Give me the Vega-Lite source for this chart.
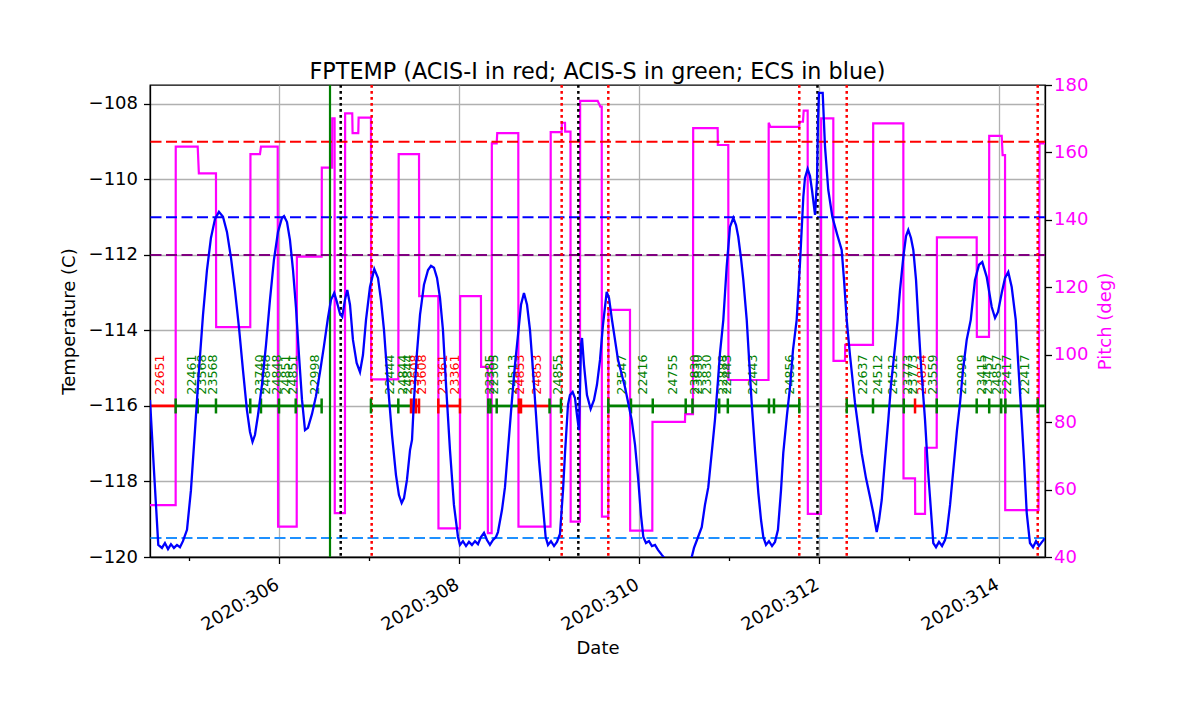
{
  "$schema": "https://vega.github.io/schema/vega-lite/v6.json",
  "width": 895,
  "height": 472,
  "autosize": {"type": "none"},
  "padding": {"left": 150, "top": 85, "right": 155, "bottom": 157},
  "title": {"text": "FPTEMP (ACIS-I in red; ACIS-S in green; ECS in blue)", "font": "DejaVu Sans", "fontSize": 22.3, "fontWeight": "normal", "color": "black", "offset": -7},
  "config": {
    "font": "DejaVu Sans",
    "view": {"stroke": "black", "strokeWidth": 1.3},
    "axis": {
      "labelFont": "DejaVu Sans", "titleFont": "DejaVu Sans",
      "labelFontSize": 18, "titleFontSize": 18, "titleFontWeight": "normal",
      "labelColor": "black", "titleColor": "black",
      "tickColor": "black", "domainColor": "black", "tickWidth": 1.3, "domainWidth": 1.3,
      "gridColor": "#b0b0b0", "gridWidth": 1.3, "labelPadding": 6, "tickSize": 6.5,
      "labelFlush": false, "labelOverlap": false
    }
  },
  "datasets": {
    "temp": [
      {"t":304.567,"T":-115.84},{"t":304.611,"T":-117.70},{"t":304.659,"T":-119.68},{"t":304.7,"T":-119.76},{"t":304.733,"T":-119.63},{"t":304.767,"T":-119.79},{"t":304.8,"T":-119.66},{"t":304.833,"T":-119.76},{"t":304.867,"T":-119.68},{"t":304.9,"T":-119.74},{"t":304.933,"T":-119.58},{"t":304.978,"T":-119.28},{"t":305.022,"T":-118.23},{"t":305.067,"T":-116.64},{"t":305.111,"T":-115.05},{"t":305.156,"T":-113.59},{"t":305.2,"T":-112.40},{"t":305.244,"T":-111.55},{"t":305.289,"T":-111.05},{"t":305.333,"T":-110.86},{"t":305.378,"T":-110.99},{"t":305.422,"T":-111.39},{"t":305.467,"T":-112.08},{"t":305.511,"T":-112.93},{"t":305.556,"T":-113.93},{"t":305.6,"T":-115.05},{"t":305.644,"T":-116.11},{"t":305.678,"T":-116.69},{"t":305.706,"T":-116.95},{"t":305.733,"T":-116.77},{"t":305.767,"T":-116.24},{"t":305.811,"T":-115.44},{"t":305.856,"T":-114.38},{"t":305.9,"T":-113.19},{"t":305.944,"T":-112.13},{"t":305.989,"T":-111.39},{"t":306.033,"T":-111.02},{"t":306.056,"T":-110.97},{"t":306.089,"T":-111.13},{"t":306.122,"T":-111.60},{"t":306.156,"T":-112.40},{"t":306.189,"T":-113.40},{"t":306.222,"T":-114.65},{"t":306.256,"T":-115.84},{"t":306.289,"T":-116.64},{"t":306.322,"T":-116.58},{"t":306.367,"T":-116.21},{"t":306.411,"T":-115.74},{"t":306.456,"T":-115.10},{"t":306.5,"T":-114.41},{"t":306.544,"T":-113.67},{"t":306.578,"T":-113.19},{"t":306.614,"T":-113.01},{"t":306.644,"T":-113.25},{"t":306.678,"T":-113.56},{"t":306.703,"T":-113.64},{"t":306.733,"T":-113.19},{"t":306.759,"T":-112.93},{"t":306.789,"T":-113.32},{"t":306.822,"T":-114.25},{"t":306.863,"T":-114.86},{"t":306.9,"T":-115.10},{"t":306.933,"T":-114.65},{"t":306.967,"T":-113.72},{"t":307.011,"T":-112.85},{"t":307.059,"T":-112.37},{"t":307.1,"T":-112.61},{"t":307.133,"T":-113.19},{"t":307.167,"T":-113.99},{"t":307.211,"T":-115.44},{"t":307.256,"T":-116.77},{"t":307.3,"T":-117.83},{"t":307.333,"T":-118.36},{"t":307.363,"T":-118.57},{"t":307.389,"T":-118.44},{"t":307.422,"T":-117.96},{"t":307.456,"T":-117.17},{"t":307.478,"T":-116.90},{"t":307.5,"T":-115.84},{"t":307.533,"T":-114.60},{"t":307.567,"T":-113.59},{"t":307.611,"T":-112.79},{"t":307.656,"T":-112.40},{"t":307.689,"T":-112.29},{"t":307.722,"T":-112.34},{"t":307.756,"T":-112.61},{"t":307.789,"T":-113.14},{"t":307.822,"T":-113.99},{"t":307.856,"T":-115.44},{"t":307.9,"T":-117.17},{"t":307.944,"T":-118.62},{"t":307.989,"T":-119.47},{"t":308.011,"T":-119.68},{"t":308.044,"T":-119.58},{"t":308.078,"T":-119.71},{"t":308.111,"T":-119.60},{"t":308.144,"T":-119.68},{"t":308.178,"T":-119.58},{"t":308.211,"T":-119.66},{"t":308.244,"T":-119.47},{"t":308.278,"T":-119.36},{"t":308.311,"T":-119.55},{"t":308.344,"T":-119.68},{"t":308.378,"T":-119.55},{"t":308.411,"T":-119.47},{"t":308.433,"T":-119.34},{"t":308.478,"T":-118.75},{"t":308.511,"T":-118.15},{"t":308.544,"T":-117.17},{"t":308.586,"T":-115.92},{"t":308.622,"T":-114.91},{"t":308.656,"T":-114.12},{"t":308.689,"T":-113.32},{"t":308.722,"T":-113.01},{"t":308.756,"T":-113.32},{"t":308.789,"T":-113.99},{"t":308.822,"T":-115.05},{"t":308.856,"T":-116.24},{"t":308.889,"T":-117.43},{"t":308.922,"T":-118.36},{"t":308.963,"T":-119.47},{"t":308.989,"T":-119.68},{"t":309.022,"T":-119.58},{"t":309.056,"T":-119.71},{"t":309.089,"T":-119.60},{"t":309.122,"T":-119.39},{"t":309.156,"T":-118.23},{"t":309.178,"T":-117.25},{"t":309.211,"T":-115.97},{"t":309.233,"T":-115.71},{"t":309.263,"T":-115.63},{"t":309.289,"T":-115.79},{"t":309.311,"T":-116.24},{"t":309.333,"T":-116.64},{"t":309.344,"T":-115.58},{"t":309.356,"T":-114.38},{"t":309.367,"T":-114.20},{"t":309.389,"T":-114.91},{"t":309.422,"T":-115.71},{"t":309.463,"T":-116.08},{"t":309.5,"T":-115.84},{"t":309.533,"T":-115.44},{"t":309.567,"T":-114.78},{"t":309.6,"T":-113.85},{"t":309.641,"T":-112.98},{"t":309.667,"T":-113.14},{"t":309.7,"T":-113.72},{"t":309.767,"T":-114.78},{"t":309.844,"T":-115.50},{"t":309.919,"T":-116.37},{"t":309.956,"T":-117.03},{"t":309.992,"T":-117.96},{"t":310.022,"T":-118.89},{"t":310.048,"T":-119.47},{"t":310.078,"T":-119.63},{"t":310.111,"T":-119.58},{"t":310.144,"T":-119.71},{"t":310.178,"T":-119.68},{"t":310.211,"T":-119.81},{"t":310.256,"T":-119.95},{"t":310.3,"T":-120.08},{"t":310.367,"T":-120.21},{"t":310.456,"T":-120.26},{"t":310.533,"T":-120.16},{"t":310.586,"T":-120.0},{"t":310.611,"T":-119.76},{"t":310.644,"T":-119.55},{"t":310.697,"T":-119.21},{"t":310.733,"T":-118.62},{"t":310.770,"T":-118.15},{"t":310.811,"T":-117.17},{"t":310.844,"T":-116.37},{"t":310.878,"T":-115.31},{"t":310.9,"T":-114.60},{"t":310.937,"T":-113.72},{"t":310.974,"T":-112.32},{"t":311.011,"T":-111.26},{"t":311.048,"T":-111.02},{"t":311.078,"T":-111.21},{"t":311.103,"T":-111.52},{"t":311.133,"T":-112.08},{"t":311.159,"T":-112.66},{"t":311.197,"T":-113.72},{"t":311.252,"T":-115.92},{"t":311.289,"T":-117.17},{"t":311.326,"T":-118.30},{"t":311.356,"T":-119.02},{"t":311.381,"T":-119.47},{"t":311.411,"T":-119.68},{"t":311.444,"T":-119.58},{"t":311.478,"T":-119.71},{"t":311.511,"T":-119.60},{"t":311.544,"T":-119.28},{"t":311.578,"T":-118.23},{"t":311.603,"T":-117.25},{"t":311.644,"T":-116.24},{"t":311.678,"T":-115.50},{"t":311.711,"T":-114.52},{"t":311.752,"T":-113.72},{"t":311.789,"T":-112.21},{"t":311.826,"T":-110.46},{"t":311.844,"T":-109.96},{"t":311.874,"T":-109.72},{"t":311.9,"T":-109.91},{"t":311.922,"T":-110.28},{"t":311.956,"T":-110.94},{"t":311.978,"T":-110.01},{"t":311.989,"T":-108.42},{"t":312.0,"T":-107.71},{"t":312.041,"T":-107.71},{"t":312.067,"T":-109.14},{"t":312.103,"T":-110.28},{"t":312.148,"T":-110.99},{"t":312.203,"T":-111.47},{"t":312.252,"T":-111.87},{"t":312.278,"T":-112.66},{"t":312.308,"T":-113.72},{"t":312.344,"T":-114.65},{"t":312.4,"T":-115.92},{"t":312.474,"T":-117.25},{"t":312.522,"T":-117.91},{"t":312.567,"T":-118.41},{"t":312.603,"T":-118.83},{"t":312.641,"T":-119.34},{"t":312.667,"T":-119.02},{"t":312.697,"T":-118.49},{"t":312.733,"T":-117.43},{"t":312.770,"T":-116.37},{"t":312.8,"T":-115.44},{"t":312.844,"T":-114.44},{"t":312.874,"T":-113.72},{"t":312.9,"T":-112.93},{"t":312.937,"T":-112.05},{"t":312.967,"T":-111.50},{"t":312.992,"T":-111.34},{"t":313.022,"T":-111.55},{"t":313.048,"T":-111.87},{"t":313.078,"T":-112.66},{"t":313.103,"T":-113.72},{"t":313.133,"T":-114.91},{"t":313.178,"T":-116.37},{"t":313.211,"T":-117.70},{"t":313.233,"T":-118.41},{"t":313.270,"T":-119.63},{"t":313.3,"T":-119.74},{"t":313.333,"T":-119.60},{"t":313.367,"T":-119.71},{"t":313.4,"T":-119.55},{"t":313.419,"T":-119.36},{"t":313.456,"T":-118.62},{"t":313.492,"T":-117.70},{"t":313.533,"T":-116.64},{"t":313.567,"T":-115.92},{"t":313.6,"T":-115.05},{"t":313.641,"T":-114.25},{"t":313.686,"T":-113.72},{"t":313.733,"T":-112.66},{"t":313.778,"T":-112.26},{"t":313.814,"T":-112.19},{"t":313.863,"T":-112.58},{"t":313.919,"T":-113.38},{"t":313.956,"T":-113.67},{"t":313.989,"T":-113.51},{"t":314.030,"T":-113.01},{"t":314.067,"T":-112.61},{"t":314.103,"T":-112.45},{"t":314.141,"T":-112.85},{"t":314.186,"T":-113.72},{"t":314.211,"T":-114.78},{"t":314.252,"T":-116.37},{"t":314.278,"T":-117.43},{"t":314.308,"T":-118.83},{"t":314.344,"T":-119.63},{"t":314.378,"T":-119.74},{"t":314.411,"T":-119.58},{"t":314.444,"T":-119.71},{"t":314.478,"T":-119.60},{"t":314.511,"T":-119.50}
    ],
    "pitch": [
      {"t":304.4,"p":55.4},{"t":304.852,"p":55.4},{"t":304.853,"p":161.7},{"t":305.097,"p":161.7},{"t":305.11,"p":153.8},{"t":305.3,"p":153.8},{"t":305.302,"p":108.2},{"t":305.681,"p":108.2},{"t":305.683,"p":159.5},{"t":305.789,"p":159.5},{"t":305.8,"p":161.7},{"t":305.986,"p":161.7},{"t":305.99,"p":49.0},{"t":306.197,"p":49.0},{"t":306.199,"p":129.1},{"t":306.474,"p":129.1},{"t":306.476,"p":155.5},{"t":306.59,"p":155.5},{"t":306.592,"p":170.1},{"t":306.618,"p":170.1},{"t":306.62,"p":53.0},{"t":306.733,"p":53.0},{"t":306.735,"p":171.6},{"t":306.814,"p":171.6},{"t":306.818,"p":165.7},{"t":306.881,"p":165.7},{"t":306.885,"p":170.3},{"t":307.022,"p":170.3},{"t":307.024,"p":92.7},{"t":307.326,"p":92.7},{"t":307.33,"p":159.5},{"t":307.556,"p":159.5},{"t":307.558,"p":117.4},{"t":307.77,"p":117.4},{"t":307.772,"p":48.5},{"t":308.011,"p":48.5},{"t":308.013,"p":117.4},{"t":308.244,"p":117.4},{"t":308.246,"p":96.4},{"t":308.319,"p":96.4},{"t":308.321,"p":47.1},{"t":308.363,"p":47.1},{"t":308.365,"p":162.7},{"t":308.419,"p":162.7},{"t":308.425,"p":165.7},{"t":308.659,"p":165.7},{"t":308.661,"p":49.0},{"t":309.017,"p":49.0},{"t":309.019,"p":166.0},{"t":309.141,"p":166.0},{"t":309.143,"p":168.8},{"t":309.178,"p":168.8},{"t":309.18,"p":166.2},{"t":309.239,"p":166.2},{"t":309.241,"p":50.5},{"t":309.344,"p":50.5},{"t":309.346,"p":175.3},{"t":309.541,"p":175.3},{"t":309.57,"p":173.6},{"t":309.586,"p":173.6},{"t":309.588,"p":52.0},{"t":309.659,"p":52.0},{"t":309.661,"p":113.3},{"t":309.9,"p":113.3},{"t":309.902,"p":47.8},{"t":310.148,"p":47.8},{"t":310.15,"p":80.1},{"t":310.511,"p":80.1},{"t":310.513,"p":82.4},{"t":310.6,"p":82.4},{"t":310.602,"p":167.2},{"t":310.874,"p":167.2},{"t":310.876,"p":162.2},{"t":310.992,"p":162.2},{"t":310.994,"p":92.5},{"t":311.439,"p":92.5},{"t":311.441,"p":168.8},{"t":311.46,"p":167.6},{"t":311.781,"p":167.6},{"t":311.783,"p":169.1},{"t":311.822,"p":169.1},{"t":311.83,"p":172.4},{"t":311.874,"p":172.4},{"t":311.876,"p":52.8},{"t":312.022,"p":52.8},{"t":312.024,"p":170.1},{"t":312.159,"p":170.1},{"t":312.161,"p":98.2},{"t":312.289,"p":98.2},{"t":312.291,"p":102.9},{"t":312.6,"p":102.9},{"t":312.602,"p":168.6},{"t":312.937,"p":168.6},{"t":312.939,"p":63.3},{"t":313.067,"p":63.3},{"t":313.069,"p":52.8},{"t":313.178,"p":52.8},{"t":313.18,"p":72.4},{"t":313.308,"p":72.4},{"t":313.31,"p":134.8},{"t":313.752,"p":134.8},{"t":313.754,"p":105.3},{"t":313.889,"p":105.3},{"t":313.891,"p":164.9},{"t":314.03,"p":164.9},{"t":314.04,"p":159.2},{"t":314.067,"p":159.2},{"t":314.069,"p":53.9},{"t":314.439,"p":53.9},{"t":314.45,"p":162.7},{"t":314.6,"p":162.7}
    ],
    "hlines": [
      {"T": -109, "c": "#ff0000"},
      {"T": -111, "c": "#0000ff"},
      {"T": -112, "c": "#800080"},
      {"T": -119.5, "c": "#1e90ff"}
    ],
    "vlines": [
      {"t": 307.03, "c": "#ff0000"}, {"t": 309.141, "c": "#ff0000"}, {"t": 309.659, "c": "#ff0000"},
      {"t": 311.781, "c": "#ff0000"}, {"t": 312.308, "c": "#ff0000"}, {"t": 314.43, "c": "#ff0000"},
      {"t": 306.686, "c": "#000000"}, {"t": 309.326, "c": "#000000"}, {"t": 311.983, "c": "#000000"}
    ],
    "green_line": [{"t": 306.567}],
    "obs": [
      {"t0": 304.4, "t1": 304.852, "c": "#ff0000"},
      {"t0": 304.852, "t1": 306.474, "c": "#008000"},
      {"t0": 307.022, "t1": 307.474, "c": "#008000"},
      {"t0": 307.474, "t1": 307.556, "c": "#ff0000"},
      {"t0": 307.77, "t1": 308.011, "c": "#ff0000"},
      {"t0": 308.326, "t1": 308.667, "c": "#008000"},
      {"t0": 308.667, "t1": 309.006, "c": "#ff0000"},
      {"t0": 309.006, "t1": 309.133, "c": "#008000"},
      {"t0": 309.659, "t1": 311.781, "c": "#008000"},
      {"t0": 312.308, "t1": 313.067, "c": "#008000"},
      {"t0": 313.067, "t1": 313.159, "c": "#ff0000"},
      {"t0": 313.159, "t1": 314.6, "c": "#008000"}
    ],
    "ticks": [
      {"t":304.852,"c":"#008000"},{"t":305.097,"c":"#008000"},{"t":305.3,"c":"#008000"},{"t":305.681,"c":"#008000"},{"t":305.8,"c":"#008000"},{"t":306.0,"c":"#008000"},{"t":306.186,"c":"#008000"},{"t":306.474,"c":"#008000"},{"t":307.022,"c":"#008000"},{"t":307.326,"c":"#008000"},{"t":308.326,"c":"#008000"},{"t":308.35,"c":"#008000"},{"t":308.419,"c":"#008000"},{"t":309.006,"c":"#008000"},{"t":309.133,"c":"#008000"},{"t":309.659,"c":"#008000"},{"t":309.911,"c":"#008000"},{"t":310.153,"c":"#008000"},{"t":310.519,"c":"#008000"},{"t":310.594,"c":"#008000"},{"t":310.891,"c":"#008000"},{"t":310.987,"c":"#008000"},{"t":311.444,"c":"#008000"},{"t":311.5,"c":"#008000"},{"t":311.781,"c":"#008000"},{"t":312.308,"c":"#008000"},{"t":312.6,"c":"#008000"},{"t":312.942,"c":"#008000"},{"t":313.308,"c":"#008000"},{"t":313.752,"c":"#008000"},{"t":313.891,"c":"#008000"},{"t":314.024,"c":"#008000"},{"t":314.071,"c":"#008000"},{"t":314.43,"c":"#008000"},
      {"t":307.467,"c":"#ff0000"},{"t":307.494,"c":"#ff0000"},{"t":307.522,"c":"#ff0000"},{"t":307.556,"c":"#ff0000"},{"t":307.77,"c":"#ff0000"},{"t":308.011,"c":"#ff0000"},{"t":308.667,"c":"#ff0000"},{"t":308.689,"c":"#ff0000"},{"t":313.067,"c":"#ff0000"}
    ],
    "labels": [
      {"t":304.678,"id":"22651","c":"#ff0000"},{"t":305.03,"id":"22461","c":"#008000"},{"t":305.141,"id":"23568","c":"#008000"},{"t":305.27,"id":"23568","c":"#008000"},{"t":305.789,"id":"23740","c":"#008000"},{"t":305.856,"id":"24848","c":"#008000"},{"t":305.978,"id":"24848","c":"#008000"},{"t":306.078,"id":"24851","c":"#008000"},{"t":306.156,"id":"24851","c":"#008000"},{"t":306.4,"id":"22998","c":"#008000"},{"t":307.233,"id":"22444","c":"#008000"},{"t":307.374,"id":"24844","c":"#008000"},{"t":307.437,"id":"24844","c":"#008000"},{"t":307.511,"id":"23608","c":"#ff0000"},{"t":307.586,"id":"23608","c":"#ff0000"},{"t":307.826,"id":"23361","c":"#ff0000"},{"t":307.956,"id":"23361","c":"#ff0000"},{"t":308.344,"id":"22385","c":"#008000"},{"t":308.389,"id":"22305","c":"#008000"},{"t":308.603,"id":"24513","c":"#008000"},{"t":308.678,"id":"24853","c":"#ff0000"},{"t":308.863,"id":"24853","c":"#ff0000"},{"t":309.103,"id":"24855","c":"#008000"},{"t":309.808,"id":"23547","c":"#008000"},{"t":310.048,"id":"22416","c":"#008000"},{"t":310.381,"id":"24755","c":"#008000"},{"t":310.622,"id":"23830","c":"#008000"},{"t":310.659,"id":"23830","c":"#008000"},{"t":310.752,"id":"23830","c":"#008000"},{"t":310.937,"id":"22888","c":"#008000"},{"t":310.974,"id":"22443","c":"#008000"},{"t":311.27,"id":"22443","c":"#008000"},{"t":311.678,"id":"24856","c":"#008000"},{"t":312.492,"id":"22637","c":"#008000"},{"t":312.659,"id":"24512","c":"#008000"},{"t":312.826,"id":"24512","c":"#008000"},{"t":312.992,"id":"23773","c":"#008000"},{"t":313.048,"id":"23773","c":"#008000"},{"t":313.141,"id":"24854","c":"#ff0000"},{"t":313.27,"id":"23559","c":"#008000"},{"t":313.586,"id":"22999","c":"#008000"},{"t":313.808,"id":"23415","c":"#008000"},{"t":313.881,"id":"23457","c":"#008000"},{"t":313.974,"id":"24857","c":"#008000"},{"t":314.086,"id":"22417","c":"#008000"},{"t":314.289,"id":"22417","c":"#008000"}
    ]
  },
  "layer": [
    {
      "data": {"name": "pitch"},
      "mark": {"type": "line", "color": "#ff00ff", "strokeWidth": 2.2, "clip": true},
      "encoding": {
        "x": {"field": "t", "type": "quantitative", "scale": {"domain": [304.567, 314.511], "nice": false, "zero": false}},
        "y": {
          "field": "p", "type": "quantitative",
          "scale": {"domain": [40, 180], "nice": false, "zero": false},
          "axis": {"orient": "right", "title": "Pitch (deg)", "values": [40, 60, 80, 100, 120, 140, 160, 180], "grid": false, "labelColor": "#ff00ff", "titleColor": "#ff00ff", "titleAngle": 270, "labelPadding": 2, "titlePadding": 27}
        }
      }
    },
    {
      "layer": [
        {
          "data": {"name": "hlines"},
          "mark": {"type": "rule", "strokeWidth": 2, "strokeDash": [11, 4.5]},
          "encoding": {
            "y": {"field": "T", "type": "quantitative", "scale": {"domain": [-120, -107.5], "nice": false, "zero": false}},
            "color": {"field": "c", "type": "nominal", "scale": null}
          }
        },
        {
          "data": {"name": "vlines"},
          "mark": {"type": "rule", "strokeWidth": 2.5, "strokeDash": [2.7, 3.3]},
          "encoding": {
            "x": {"field": "t", "type": "quantitative"},
            "color": {"field": "c", "type": "nominal", "scale": null}
          }
        },
        {
          "data": {"name": "green_line"},
          "mark": {"type": "rule", "strokeWidth": 2.2, "color": "#008000"},
          "encoding": {
            "x": {"field": "t", "type": "quantitative"}
          }
        },
        {
          "data": {"name": "obs"},
          "mark": {"type": "rule", "strokeWidth": 2.7, "clip": true},
          "encoding": {
            "x": {"field": "t0", "type": "quantitative"},
            "x2": {"field": "t1"},
            "y": {"datum": -116, "type": "quantitative"},
            "color": {"field": "c", "type": "nominal", "scale": null}
          }
        },
        {
          "data": {"name": "ticks"},
          "mark": {"type": "tick", "orient": "vertical", "size": 15, "thickness": 2.5, "opacity": 1},
          "encoding": {
            "x": {"field": "t", "type": "quantitative"},
            "y": {"datum": -116, "type": "quantitative"},
            "color": {"field": "c", "type": "nominal", "scale": null}
          }
        },
        {
          "data": {"name": "labels"},
          "mark": {"type": "text", "angle": 270, "align": "left", "baseline": "middle", "fontSize": 12.6, "font": "DejaVu Sans"},
          "encoding": {
            "x": {"field": "t", "type": "quantitative"},
            "y": {"datum": -115.7, "type": "quantitative"},
            "text": {"field": "id", "type": "nominal"},
            "color": {"field": "c", "type": "nominal", "scale": null}
          }
        },
        {
          "data": {"name": "temp"},
          "mark": {"type": "line", "color": "#0000ff", "strokeWidth": 2.3, "clip": true},
          "encoding": {
            "x": {
              "field": "t", "type": "quantitative",
              "scale": {"domain": [304.567, 314.511], "nice": false, "zero": false},
              "axis": {
                "title": "Date",
                "values": [305, 306, 307, 308, 309, 310, 311, 312, 313, 314],
                "labelExpr": "datum.value % 2 == 0 ? '2020:' + datum.value : ''",
                "labelAngle": -30, "labelAlign": "right", "labelBaseline": "top",
                "labelPadding": 12, "labelOffset": -6,
                "tickSize": {"condition": {"test": "datum.value % 2 == 0", "value": 6.5}, "value": 3.5},
                "grid": true,
                "gridOpacity": {"condition": {"test": "datum.value % 2 == 0", "value": 1}, "value": 0},
                "titlePadding": 5
              }
            },
            "y": {
              "field": "T", "type": "quantitative",
              "scale": {"domain": [-120, -107.5], "nice": false, "zero": false},
              "axis": {"orient": "left", "title": "Temperature (C)", "values": [-120, -118, -116, -114, -112, -110, -108], "format": "d", "grid": true, "titlePadding": 10}
            }
          }
        }
      ]
    }
  ],
  "resolve": {"scale": {"y": "independent"}, "axis": {"y": "independent"}}
}
